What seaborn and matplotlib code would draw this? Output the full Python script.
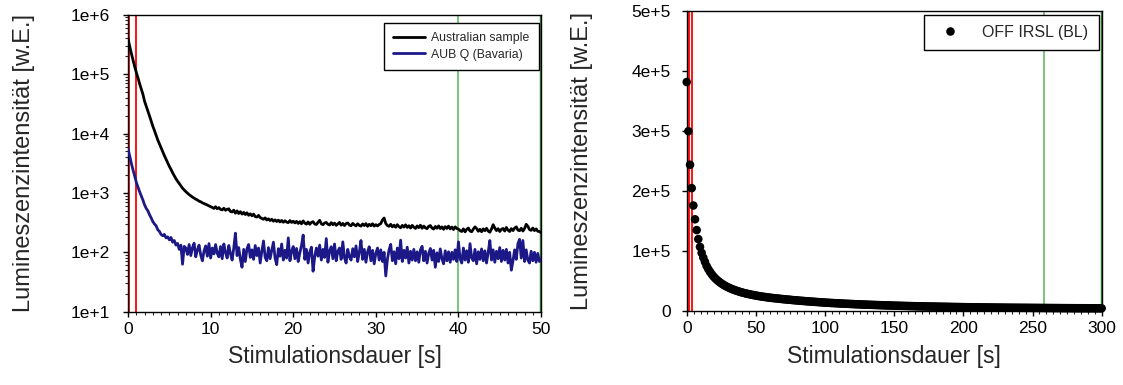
import numpy as np
import pandas as pd
import matplotlib
matplotlib.use("Agg")
import matplotlib.pyplot as plt
import seaborn as sns
from matplotlib.ticker import FuncFormatter, MultipleLocator, LogLocator, NullFormatter, FixedLocator

sns.set_style("ticks")
plt.rcParams["font.family"] = ["Liberation Sans", "DejaVu Sans"]

# ---------------- data ----------------
# Left panel: channel width 0.2 s, 0 ... 50 s
left_step = 0.2
australian = [
    398000, 295000, 224000, 174000, 135000, 107000, 87000, 69000, 56000, 46000,
    35000, 29000, 24000, 19800, 16200, 13300, 11200, 9300, 7800, 6700,
    5700, 4950, 4250, 3700, 3220, 2800, 2490, 2180, 1940, 1730,
    1570, 1440, 1310, 1200, 1120, 1050, 990, 935, 890, 850,
    815, 785, 760, 725, 710, 680, 662, 645, 625, 605,
    585,
    570, 548, 585, 540, 566, 528, 518, 552, 510, 530,
    540, 485, 478, 512, 455, 498, 450, 482, 440, 470,
    432, 462, 420, 445, 412, 440, 398, 392, 418, 384,
    372, 360, 380, 350, 366, 342, 360, 334, 352, 330,
    348, 324, 344, 320, 340, 322, 316, 342, 318, 334,
    312, 332, 306, 328, 302, 338, 310, 298, 324, 296,
    318, 328, 300, 294, 320, 345, 302, 292, 312, 318,
    296, 288, 316, 292, 310, 284, 300, 318, 286, 306,
    282, 304, 312, 288, 280, 306, 290, 278, 302, 284,
    276, 300, 282, 304, 274, 296, 280, 302, 276, 292,
    278, 294, 304, 350, 378, 306, 282, 274, 296, 268,
    286, 264, 292, 270, 258, 284, 266, 290, 262, 280,
    256, 284, 264, 252, 278, 260, 286, 254, 276, 258,
    250, 274, 282, 256, 246, 272, 254, 278, 251, 268,
    244, 270, 252, 276, 248, 266, 242, 268, 251, 246,
    231, 224, 248, 221, 244, 256, 228, 222, 246, 268,
    251, 226, 244, 222, 248, 231, 254, 228, 218, 246,
    292, 256, 232, 250, 224, 244, 252, 228, 262, 236,
    224, 250, 232, 256, 268, 236, 231, 254, 228, 251,
    296, 274, 241, 234, 256, 232, 248, 226, 224, 214,
]
aubq = [
    5600, 4170, 3160, 2450, 1950, 1510, 1260, 1050, 890, 760,
    630, 550, 500, 430, 380, 330, 300, 280, 240, 225,
    200, 190, 200, 175, 182, 162, 178, 148, 158, 132,
    141, 112, 132, 63, 126,
    118, 92, 135, 88, 120, 142, 84, 110, 132, 90, 72, 105, 128, 86, 140, 80, 118, 94, 135, 96,
    84, 125, 78, 138, 100, 80, 130, 95, 74, 118, 210, 88, 120, 76, 56, 112, 70, 115, 135, 82,
    110, 76, 130, 88, 118, 66, 104, 155, 82, 72, 120, 78, 108, 148, 80, 62, 115, 86, 138, 74,
    108, 80, 175, 72, 104, 125, 78, 116, 70, 98, 130, 195, 76, 112, 66, 100, 122, 48, 84, 118,
    86, 132, 74, 112, 82, 170, 68, 106, 124, 78, 138, 72, 104, 118, 76, 150, 82, 66, 112, 84,
    74, 115, 84, 128, 70, 100, 158, 76, 112, 68, 102, 124, 72, 108, 64, 96, 118, 74, 110, 70,
    100, 40, 76, 110, 136, 72, 102, 64, 118, 78, 160, 70, 108, 80, 122, 66, 104, 74, 112, 72,
    102, 68, 110, 126, 72, 104, 66, 96, 116, 74, 108, 56, 98, 70, 114, 78, 64, 106, 72, 102,
    68, 100, 76, 110, 70, 150, 78, 66, 118, 74, 106, 68, 140, 80, 72, 112, 64, 102, 76, 114,
    72, 106, 66, 100, 158, 74, 110, 68, 104, 78, 120, 70, 108, 74, 112, 66, 100, 50, 72, 110,
    76, 140, 165, 80, 158, 70, 110, 74, 66, 104, 72, 100, 68, 96, 70, 78,
]
left_labels = ["Australian sample", "AUB Q (Bavaria)"]
left_red = [0.1, 1.0]
left_green = [40.0, 50.0]
left_yticks = [1e1, 1e2, 1e3, 1e4, 1e5, 1e6]

# Right panel: channel width 1.2 s, 0 ... 300 s (values in units of 1e3)
right_step = 1.2
off_irsl_k = [
    382, 300, 244, 205, 176, 153, 135, 120, 107, 97,
    89, 82, 75, 70, 65.5, 61.5, 58, 55, 52.3, 50,
    47.8, 45.8, 44, 42.3, 40.8, 39.4, 38.1, 36.9, 35.8, 34.8,
    33.8, 32.9, 32.0, 31.2, 30.4, 29.7, 29.0, 28.4, 27.8, 27.2,
    26.7, 26.1, 25.6,
    25.1, 24.7, 24.2, 23.8, 23.4, 23.0, 22.6, 22.3, 21.9, 21.6,
    21.3, 21.0, 20.7, 20.4, 20.1, 19.8, 19.5, 19.3, 19.0, 18.8,
    18.5, 18.2, 18.0, 17.7, 17.5, 17.2, 17.0, 16.8, 16.6, 16.3,
    16.1, 15.9, 15.7, 15.5, 15.3, 15.1, 14.9, 14.7, 14.5, 14.3,
    14.1, 13.9, 13.8, 13.6, 13.4, 13.3, 13.1, 13.0, 12.8, 12.7,
    12.5, 12.4, 12.2, 12.1, 12.0, 11.8, 11.7, 11.6, 11.4, 11.3,
    11.2, 11.1, 10.9, 10.8, 10.7, 10.6, 10.5, 10.4, 10.3, 10.2,
    10.1, 10.0, 9.9, 9.8, 9.7, 9.6, 9.5, 9.4, 9.3, 9.25,
    9.15, 9.05, 8.95, 8.9, 8.8, 8.7, 8.65, 8.55, 8.5, 8.4,
    8.35, 8.25, 8.2, 8.1, 8.05, 8.0, 7.9, 7.85, 7.8, 7.7,
    7.65, 7.6, 7.55, 7.5, 7.45, 7.4, 7.35, 7.3, 7.25, 7.2, 7.15,
    7.1, 7.05, 7.0, 6.95, 6.9, 6.85, 6.8, 6.75, 6.7, 6.65,
    6.6, 6.55, 6.5, 6.45, 6.4, 6.36, 6.32, 6.28, 6.24, 6.2,
    6.16, 6.12, 6.08, 6.04, 6.0, 5.96, 5.92, 5.88, 5.84, 5.8,
    5.77, 5.74, 5.71, 5.68, 5.65, 5.62, 5.59, 5.56, 5.53, 5.5,
    5.48, 5.46, 5.44, 5.42, 5.40, 5.38, 5.36, 5.34, 5.32, 5.30,
    5.28, 5.26, 5.24, 5.22, 5.20, 5.18, 5.16, 5.14, 5.12, 5.10,
    5.08, 5.06, 5.04, 5.02, 5.00, 4.98, 4.96, 4.94, 4.92, 4.90,
    4.88, 4.86, 4.84, 4.82, 4.80, 4.78, 4.76, 4.74, 4.72, 4.70,
    4.69, 4.68, 4.67, 4.66, 4.65, 4.64, 4.63, 4.62, 4.61, 4.60,
    4.59, 4.58, 4.57, 4.56, 4.55, 4.53, 4.5,
]
right_label = "OFF IRSL (BL)"
right_red = [1.4, 3.9]
right_green = [258.0, 300.0]
right_yticks = [0, 1e5, 2e5, 3e5, 4e5, 5e5]

xlabel = "Stimulationsdauer [s]"
ylabel = "Lumineszenzintensität [w.E.]"

# ---------------- frames ----------------
t_left_a = np.arange(len(australian)) * left_step
t_left_b = np.arange(len(aubq)) * left_step
df_left = pd.concat([
    pd.DataFrame({"t": t_left_a, "I": australian, "Probe": left_labels[0]}),
    pd.DataFrame({"t": t_left_b, "I": aubq, "Probe": left_labels[1]}),
])
t_right = np.arange(len(off_irsl_k)) * right_step
df_right = pd.DataFrame({"t": t_right, "I": np.array(off_irsl_k) * 1000.0, "Probe": right_label})

# ---------------- figure ----------------
fig = plt.figure(figsize=(11.23, 3.85), dpi=100)
ax1 = fig.add_axes([0.1140, 0.1904, 0.3678, 0.7714])
ax2 = fig.add_axes([0.6115, 0.1922, 0.3695, 0.7784])

RED = "#ff0000"
GREEN_L = "#70c070"
GREEN_D = "#2f8f2f"
NAVY = "#1c1887"

# Left panel
for x in left_red:
    ax1.axvline(x, color=RED, lw=1.3, zorder=1)
ax1.axvline(left_green[0], color=GREEN_L, lw=1.3, zorder=1)
ax1.axvline(left_green[1], color=GREEN_D, lw=2.5, zorder=1)

sns.lineplot(data=df_left, x="t", y="I", hue="Probe", palette=["black", NAVY],
             estimator=None, linewidth=2.0, ax=ax1, zorder=3)
ax1.set_yscale("log")
ax1.set_xlim(0, 50)
ax1.set_ylim(1e1, 1e6)
ax1.yaxis.set_major_locator(FixedLocator(left_yticks))
ax1.yaxis.set_minor_locator(LogLocator(base=10, subs=np.arange(2, 10)))
ax1.yaxis.set_minor_formatter(NullFormatter())
ax1.yaxis.set_major_formatter(FuncFormatter(lambda v, p: "1e+%d" % int(round(np.log10(v)))))
ax1.xaxis.set_major_locator(MultipleLocator(10))
ax1.xaxis.set_minor_locator(MultipleLocator(1))

# Right panel
for x in right_red:
    ax2.axvline(x, color=RED, lw=1.3, zorder=1)
ax2.axvline(right_green[0], color=GREEN_L, lw=1.3, zorder=1)
ax2.axvline(right_green[1], color=GREEN_D, lw=2.5, zorder=1)

sns.scatterplot(data=df_right, x="t", y="I", hue="Probe", palette=["black"],
                s=38, linewidth=0, ax=ax2, zorder=3, clip_on=False)
ax2.set_xlim(0, 300)
ax2.set_ylim(0, 5e5)
ax2.yaxis.set_major_locator(FixedLocator(right_yticks))
ax2.yaxis.set_major_formatter(FuncFormatter(lambda v, p: "0" if v == 0 else "%de+5" % int(round(v / 1e5))))
ax2.xaxis.set_major_locator(MultipleLocator(50))
ax2.xaxis.set_minor_locator(MultipleLocator(5))

for ax, ypad in ((ax1, 9.5), (ax2, 8.0)):
    for s in ax.spines.values():
        s.set_color("black")
        s.set_linewidth(1.0)
    ax.tick_params(axis="both", which="major", direction="out", length=3.5, width=1,
                   labelsize=12.5, colors="black")
    ax.tick_params(axis="both", which="minor", direction="out", length=2.2, width=0.8)
    ax.tick_params(axis="y", which="major", pad=ypad)
    ax.tick_params(axis="x", which="major", pad=4)
    ax.set_xlabel(xlabel, fontsize=16.5, labelpad=6)
    ax.set_ylabel(ylabel, fontsize=17.0)

ax1.yaxis.set_label_coords(-0.226, 0.5)
ax2.yaxis.set_label_coords(-0.226, 0.5)

# Legends
h1, l1 = ax1.get_legend_handles_labels()
leg1 = ax1.legend(h1, l1, loc="upper right", bbox_to_anchor=(0.9944, 0.971), borderaxespad=0,
                  fontsize=8.8, frameon=True, fancybox=False, framealpha=1, edgecolor="black",
                  handlelength=2.6, handletextpad=0.55, borderpad=0.75, labelspacing=0.35, title=None)
leg1.get_frame().set_linewidth(1.0)
leg1.set_zorder(5)

h2, l2 = ax2.get_legend_handles_labels()
leg2 = ax2.legend(h2, l2, loc="upper right", bbox_to_anchor=(0.9928, 0.9887), borderaxespad=0,
                  fontsize=11.5, frameon=True, fancybox=False, framealpha=1, edgecolor="black",
                  handletextpad=1.0, borderpad=0.65, markerscale=1.0, title=None)
leg2.get_frame().set_linewidth(1.0)
leg2.set_zorder(5)

fig.savefig("out.png", dpi=100)
